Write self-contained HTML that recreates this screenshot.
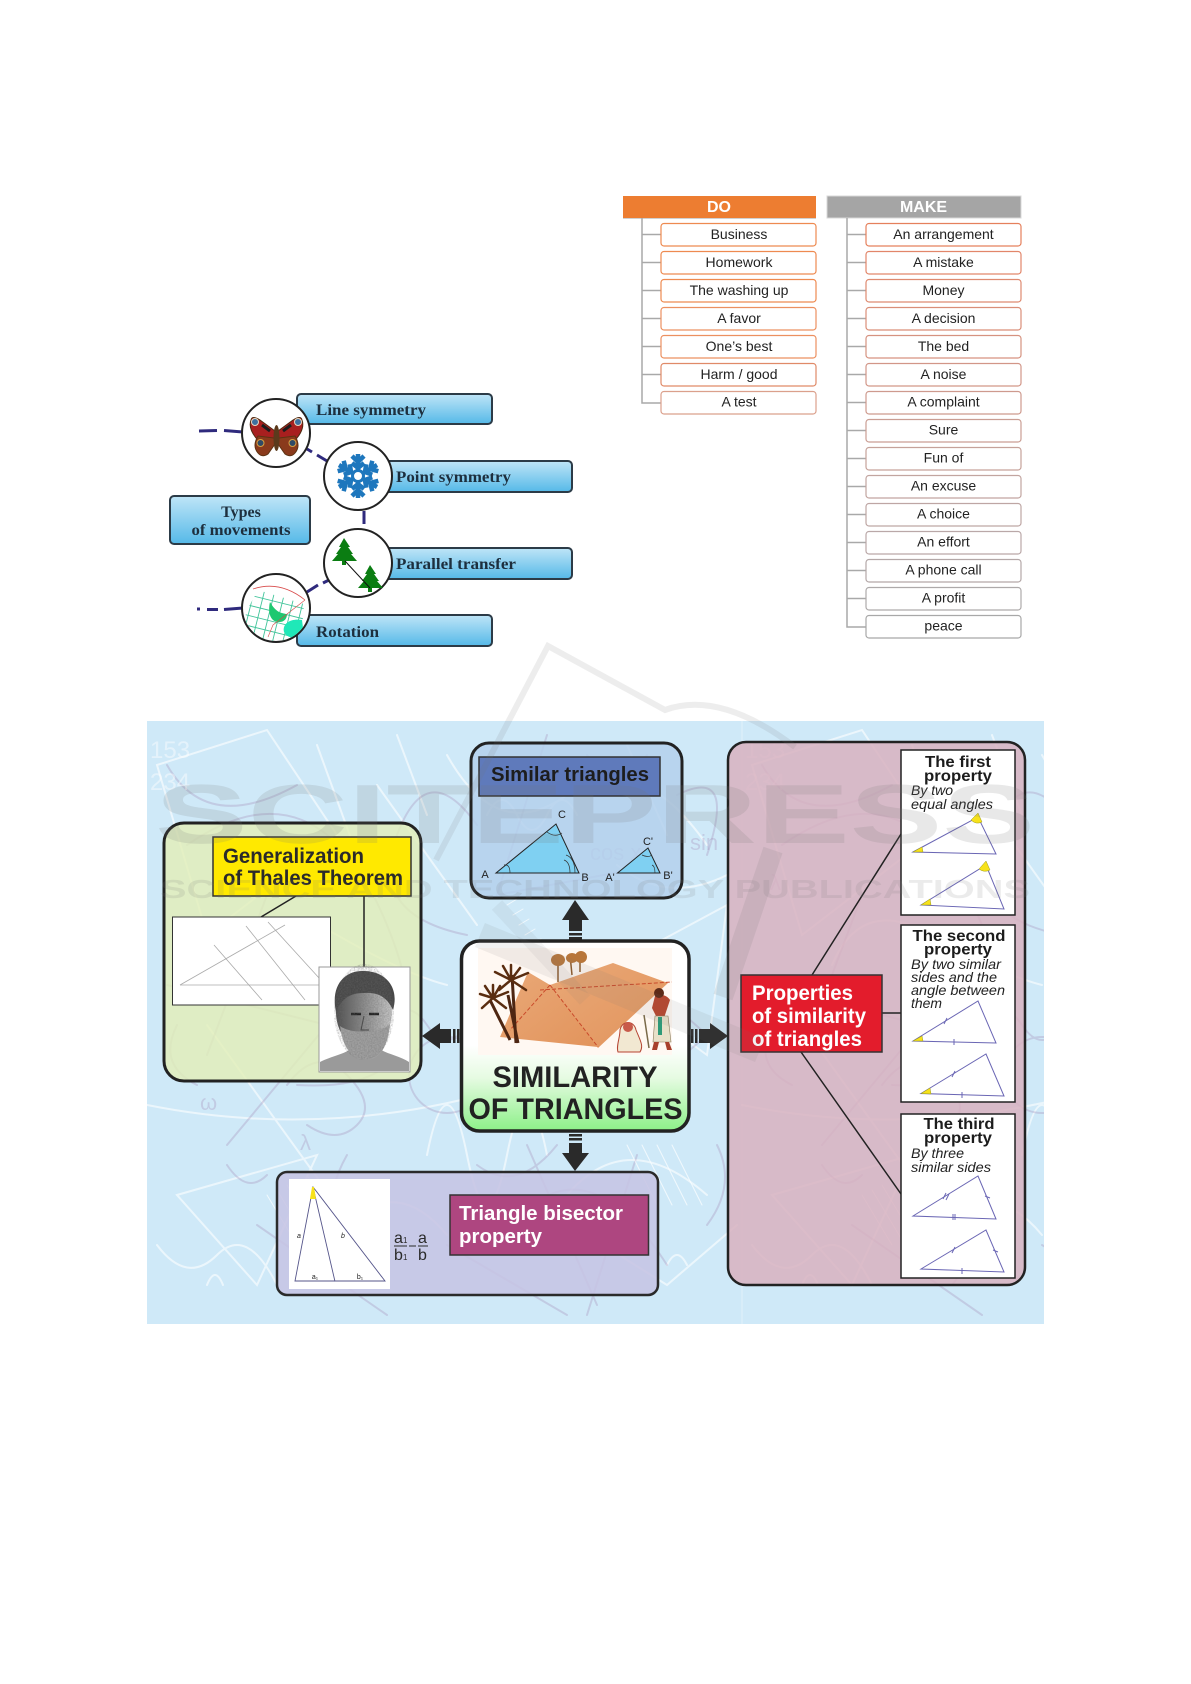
<!DOCTYPE html>
<html lang="en"><head><meta charset="utf-8"><title>Diagrams</title>
<style>
html,body{margin:0;padding:0;background:#fff}
svg{display:block}
text{font-family:"Liberation Sans",sans-serif}
.it{font-size:14px;fill:#222;text-anchor:middle}
.ser{font-family:"Liberation Serif",serif;font-weight:bold;font-size:16px;fill:#1d2f3e}
.pt{font-size:16px;font-weight:bold;fill:#1c1c1c;text-anchor:middle}
.pi{font-size:14px;font-style:italic;fill:#222}
.lb{font-size:11px;fill:#222;text-anchor:middle}
</style></head>
<body>
<svg xmlns="http://www.w3.org/2000/svg" width="1191" height="1684" viewBox="0 0 1191 1684">
<defs>
<linearGradient id="bl" x1="0" y1="0" x2="0" y2="1"><stop offset="0" stop-color="#bfe5f7"/><stop offset="1" stop-color="#55b9e8"/></linearGradient>
<linearGradient id="gr" x1="0" y1="0" x2="0" y2="1"><stop offset="0" stop-color="#fff"/><stop offset=".55" stop-color="#fff"/><stop offset=".72" stop-color="#e6fbe2"/><stop offset="1" stop-color="#8cf088"/></linearGradient>
<linearGradient id="py" x1="0" y1="0" x2="1" y2="1"><stop offset="0" stop-color="#e9a877"/><stop offset="1" stop-color="#e2945c"/></linearGradient>
<linearGradient id="hd" x1="0" y1="0" x2="1" y2="0"><stop offset="0" stop-color="#4e4e4e"/><stop offset=".5" stop-color="#8c8c8c"/><stop offset="1" stop-color="#c8c8c8"/></linearGradient>
<clipPath id="bgc"><rect x="147" y="721" width="897" height="603"/></clipPath>
<clipPath id="c1"><circle cx="276" cy="608" r="33"/></clipPath>
<clipPath id="c2"><path d="M258,590L304,604L301,642L243,642L246,612Z"/></clipPath>
<filter id="grain" x="0" y="0" width="100%" height="100%"><feTurbulence type="fractalNoise" baseFrequency=".7" numOctaves="2" seed="4"/><feColorMatrix values="0 0 0 0 .15 0 0 0 0 .15 0 0 0 0 .15 1.4 0 0 0 -.45"/><feComposite in2="SourceGraphic" operator="in"/></filter>
<g id="tile" fill="none" stroke-linecap="round">
  <g stroke="#fff" stroke-width="2" opacity=".6">
    <path d="M10,40 L120,5 L190,110 L60,210 Z"/>
    <path d="M300,30 Q350,120 420,70 T560,120"/>
    <path d="M30,470 L170,430 L110,560 Z"/>
    <path d="M280,430 Q300,330 320,430 T360,430 T400,430"/>
    <path d="M0,380 Q200,420 400,350"/>
    <path d="M420,470 Q480,400 560,470"/>
    <path d="M60,300 L190,480"/>
    <path d="M450,250 L580,180 L560,330 Z"/>
    <path d="M230,60 L330,200"/>
    <path d="M440,510 L520,560 L590,500"/>
    <path d="M90,240 Q120,170 190,210 T300,260"/>
    <path d="M340,260 L420,300 L390,360"/>
    <path d="M10,520 Q40,560 70,530 T130,560"/>
    <path d="M170,20 L210,130 M250,10 L280,90 M480,20 L520,110"/>
    <path d="M200,500 Q250,450 300,510"/>
    <path d="M470,140 Q520,180 580,150"/>
    <path d="M340,90 q15,-30 30,0 t30,0 t30,0"/>
    <path d="M60,560 q8,-20 16,0 M520,540 q10,-20 20,0"/>
  </g>
  <g stroke="#a58fb8" stroke-width="2" opacity=".32">
    <path d="M40,120 Q170,30 240,200 T150,360"/>
    <path d="M110,500 L240,590"/>
    <path d="M330,100 Q280,30 250,110 T320,210"/>
    <path d="M200,430 Q160,500 230,540"/>
    <path d="M350,520 Q430,400 520,540"/>
    <path d="M20,260 L180,300 L80,420"/>
    <path d="M470,230 L560,310 L480,380 Z"/>
    <path d="M300,520 L420,590"/>
    <circle cx="300" cy="350" r="38"/>
    <path d="M530,70 Q590,40 560,130"/>
    <path d="M20,40 Q60,110 150,60"/>
    <path d="M400,10 L350,170 L510,140"/>
    <path d="M120,170 L60,330"/>
    <path d="M240,300 q20,-30 40,0 t40,0"/>
    <path d="M380,420 L450,580 M490,430 L440,590"/>
    <path d="M30,300 q-20,40 20,60 M570,420 q20,40 -10,80"/>
    <path d="M210,560 q25,-30 10,-60 M330,440 q40,30 80,-20"/>
    <path d="M140,360 q30,-40 60,-10 t10,50 t-50,0"/>
    <path d="M440,30 q30,40 60,0 M80,440 q20,30 40,10"/>
  </g>
  <g stroke="#fff" stroke-width="1" opacity=".7">
    <path d="M120,470 L150,520 M130,465 L160,515 M140,460 L170,510 M150,455 L180,505 M160,450 L190,500"/>
    <path d="M480,420 L510,480 M495,420 L525,480 M510,420 L540,480 M525,420 L555,480"/>
    <path d="M360,180 l10,-6 M366,190 l10,-6 M372,200 l10,-6 M378,210 l10,-6 M384,220 l10,-6 M390,230 l10,-6"/>
  </g>
</g>
</defs>

<!-- DO / MAKE table -->
<rect x="623" y="196" width="193" height="22" fill="#ed7d31"/>
<path d="M623,218.500H816" stroke="#d0d0d0"/>
<text x="719" y="212" font-size="16" font-weight="bold" fill="#fff" text-anchor="middle">DO</text>
<rect x="827" y="196" width="194" height="22" fill="#a5a5a5" stroke="#d8d8d8"/>
<text x="923.500" y="212" font-size="16" font-weight="bold" fill="#fff" text-anchor="middle">MAKE</text>
<g fill="none" stroke="#a9a9a9" stroke-width="1.500">
<path d="M642,218V403H661M642,234.500H661M642,262.500H661M642,290.500H661M642,318.500H661M642,346.500H661M642,374.500H661"/>
<path d="M847,218V627H866M847,234.500H866M847,262.500H866M847,290.500H866M847,318.500H866M847,346.500H866M847,374.500H866M847,402.500H866M847,430.500H866M847,458.500H866M847,486.500H866M847,514.500H866M847,542.500H866M847,570.500H866M847,598.500H866"/>
</g>
<g fill="#fff" stroke-width="1.200">
<rect x="661" y="223.500" width="155" height="22.500" rx="3" stroke="#ee8a50"/>
<rect x="661" y="251.500" width="155" height="22.500" rx="3" stroke="#ee8a50"/>
<rect x="661" y="279.500" width="155" height="22.500" rx="3" stroke="#ee8a50"/>
<rect x="661" y="307.500" width="155" height="22.500" rx="3" stroke="#ec9060"/>
<rect x="661" y="335.500" width="155" height="22.500" rx="3" stroke="#ec9060"/>
<rect x="661" y="363.500" width="155" height="22.500" rx="3" stroke="#e08a68"/>
<rect x="661" y="391.500" width="155" height="22.500" rx="3" stroke="#dba08c"/>
<rect x="866" y="223.500" width="155" height="22.500" rx="3" stroke="#e5805c"/>
<rect x="866" y="251.500" width="155" height="22.500" rx="3" stroke="#e2866a"/>
<rect x="866" y="279.500" width="155" height="22.500" rx="3" stroke="#de8a70"/>
<rect x="866" y="307.500" width="155" height="22.500" rx="3" stroke="#da8e78"/>
<rect x="866" y="335.500" width="155" height="22.500" rx="3" stroke="#d69280"/>
<rect x="866" y="363.500" width="155" height="22.500" rx="3" stroke="#d29688"/>
<rect x="866" y="391.500" width="155" height="22.500" rx="3" stroke="#ce9a8e"/>
<rect x="866" y="419.500" width="155" height="22.500" rx="3" stroke="#ca9e94"/>
<rect x="866" y="447.500" width="155" height="22.500" rx="3" stroke="#c6a29a"/>
<rect x="866" y="475.500" width="155" height="22.500" rx="3" stroke="#c2a5a0"/>
<rect x="866" y="503.500" width="155" height="22.500" rx="3" stroke="#bea6a4"/>
<rect x="866" y="531.500" width="155" height="22.500" rx="3" stroke="#baa8a8"/>
<rect x="866" y="559.500" width="155" height="22.500" rx="3" stroke="#b4a8a8"/>
<rect x="866" y="587.500" width="155" height="22.500" rx="3" stroke="#aeaaaa"/>
<rect x="866" y="615.500" width="155" height="22.500" rx="3" stroke="#a8a8a8"/>
</g>
<text class="it" x="739" y="239">Business</text>
<text class="it" x="739" y="267">Homework</text>
<text class="it" x="739" y="295">The washing up</text>
<text class="it" x="739" y="323">A favor</text>
<text class="it" x="739" y="351">One’s best</text>
<text class="it" x="739" y="379">Harm / good</text>
<text class="it" x="739" y="406.500">A test</text>
<text class="it" x="943.500" y="239">An arrangement</text>
<text class="it" x="943.500" y="267">A mistake</text>
<text class="it" x="943.500" y="295">Money</text>
<text class="it" x="943.500" y="323">A decision</text>
<text class="it" x="943.500" y="351">The bed</text>
<text class="it" x="943.500" y="379">A noise</text>
<text class="it" x="943.500" y="406.500">A complaint</text>
<text class="it" x="943.500" y="434.500">Sure</text>
<text class="it" x="943.500" y="462.500">Fun of</text>
<text class="it" x="943.500" y="490.500">An excuse</text>
<text class="it" x="943.500" y="518.500">A choice</text>
<text class="it" x="943.500" y="546.500">An effort</text>
<text class="it" x="943.500" y="574.500">A phone call</text>
<text class="it" x="943.500" y="602.500">A profit</text>
<text class="it" x="943.500" y="630.500">peace</text>

<!-- Types of movements -->
<g stroke="#2c3b47" stroke-width="2" fill="url(#bl)">
<rect x="297" y="394" width="195" height="30" rx="4"/>
<rect x="340" y="461" width="232" height="31" rx="4"/>
<rect x="170" y="496" width="140" height="48" rx="4"/>
<rect x="340" y="548" width="232" height="31" rx="4"/>
<rect x="297" y="615" width="195" height="31" rx="4"/>
</g>
<g stroke="#2f2a7d" stroke-width="3" fill="none">
<path d="M199,431L217,430.500M224,430.500L243,432"/>
<path d="M307,449L312,452M317,455L327,461"/>
<path d="M364,511V524"/>
<path d="M307,592L318,585M323,583L329,580"/>
<path d="M197,609H200M207,609.500L218,609.500M224,609.500L243,608"/>
</g>
<g fill="#fff" stroke="#222" stroke-width="2">
<circle cx="276" cy="433" r="34"/><circle cx="358" cy="476" r="34"/><circle cx="358" cy="563" r="34"/><circle cx="276" cy="608" r="34"/>
</g>
<text class="ser" x="316" y="415" textLength="110" lengthAdjust="spacingAndGlyphs">Line symmetry</text>
<text class="ser" x="396" y="482" textLength="115" lengthAdjust="spacingAndGlyphs">Point symmetry</text>
<text class="ser" x="396" y="569" textLength="120" lengthAdjust="spacingAndGlyphs">Parallel transfer</text>
<text class="ser" x="316" y="637" textLength="63" lengthAdjust="spacingAndGlyphs">Rotation</text>
<text class="ser" x="241" y="517" text-anchor="middle">Types</text>
<text class="ser" x="241" y="535" text-anchor="middle" textLength="99" lengthAdjust="spacingAndGlyphs">of movements</text>
<!-- butterfly -->
<path d="M275,431L260,420Q252,415 251,420Q248,428 256,438L276,441Z" fill="#a81f1f" stroke="#4e2a10"/>
<path d="M278,431L293,420Q301,415 302,420Q305,428 297,438L277,441Z" fill="#a81f1f" stroke="#4e2a10"/>
<path d="M274,438L258,436Q252,446 258,453Q262,458 268,454L275,444Z" fill="#8a3a1c" stroke="#5b3212"/>
<path d="M279,438L295,436Q301,446 295,453Q291,458 285,454L278,444Z" fill="#8a3a1c" stroke="#5b3212"/>
<ellipse cx="276.500" cy="438" rx="3" ry="13" fill="#5b3a1c"/>
<circle cx="255" cy="422" r="3.500" fill="#3e6f9e" stroke="#e8d8c0"/><circle cx="298" cy="422" r="3.500" fill="#3e6f9e" stroke="#e8d8c0"/>
<circle cx="260.500" cy="443" r="3.500" fill="#2f4a66" stroke="#d8a040"/><circle cx="292.500" cy="443" r="3.500" fill="#2f4a66" stroke="#d8a040"/>
<path d="M262,425L270,431M291,425L283,431" stroke="#1c1c1c" stroke-width="3"/>
<!-- snowflake -->
<g transform="translate(358,476)" stroke="#1e77bd" stroke-width="4.500" fill="none">
<g><path d="M0,-6V-22M-6,-20L0,-14L6,-20M-6,-13L0,-8L6,-13"/></g>
<g transform="rotate(60)"><path d="M0,-6V-22M-6,-20L0,-14L6,-20M-6,-13L0,-8L6,-13"/></g>
<g transform="rotate(120)"><path d="M0,-6V-22M-6,-20L0,-14L6,-20M-6,-13L0,-8L6,-13"/></g>
<g transform="rotate(180)"><path d="M0,-6V-22M-6,-20L0,-14L6,-20M-6,-13L0,-8L6,-13"/></g>
<g transform="rotate(240)"><path d="M0,-6V-22M-6,-20L0,-14L6,-20M-6,-13L0,-8L6,-13"/></g>
<g transform="rotate(300)"><path d="M0,-6V-22M-6,-20L0,-14L6,-20M-6,-13L0,-8L6,-13"/></g>
<circle r="5.500" stroke-width="3"/>
</g>
<!-- trees -->
<path d="M344,538L350,547H348L353,554H351L357,561H346V565H342V561H332L338,554H336L341,547H339Z" fill="#0b7d12"/>
<path d="M370,565L376,574H374L379,581H377L383,588H372V592H368V588H358L364,581H362L367,574H365Z" fill="#0b7d12"/>
<path d="M345,561L370,588" stroke="#111" stroke-width="1"/>
<!-- rotation circle -->
<g clip-path="url(#c1)">
<g clip-path="url(#c2)">
<g stroke="#41c49a" stroke-width=".9" fill="none" transform="rotate(14 268 610)">
<path d="M240,580V650M250,580V650M260,580V650M270,580V650M280,580V650M290,580V650M300,580V650M235,590H310M235,600H310M235,610H310M235,620H310M235,630H310M235,640H310"/>
</g>
</g>
<path d="M270,602C268,610 269,622 279,622C285,622 287,618 287,614C279,614 274,609 270,602Z" fill="#1ec870"/>
<path d="M302,620C290,618 282,624 284,632C288,640 298,638 304,636Z" fill="#1fe8b8"/>
<path d="M253,589Q280,580 305,600" fill="none" stroke="#d84a4a" stroke-width=".8"/>
<path d="M305,600L273,625L268,637" fill="none" stroke="#d84a4a" stroke-width=".6"/>
</g>

<!-- Main figure background -->
<rect x="147" y="721" width="897" height="603" fill="#cfe9f8"/>
<g clip-path="url(#bgc)">
<use href="#tile" x="147" y="725"/>
<use href="#tile" x="742" y="725"/>
<path d="M742,721V1324" stroke="#fff" opacity=".4"/>
<g font-size="24" fill="#fff" opacity=".45">
<text x="150" y="758">153</text><text x="150" y="790">234</text>
<text x="745" y="758">153</text><text x="745" y="790">234</text>
</g>
<g font-size="22" fill="#a58fb8" opacity=".32">
<text x="590" y="860">cos x</text><text x="690" y="850">sin</text>
<text x="200" y="1110">ω</text><text x="300" y="1150">λ</text><text x="770" y="890">λ</text>
</g>
</g>

<!-- Thales panel -->
<rect x="164" y="823" width="257" height="258" rx="20" fill="#e2eeb8" fill-opacity=".82" stroke="#222" stroke-width="3"/>
<path d="M296,896L261,917M364,896V967" stroke="#222" stroke-width="1.500" fill="none"/>
<rect x="213" y="837" width="198" height="59" fill="#ffe900" stroke="#333" stroke-width="1.500"/>
<text x="223" y="863" font-size="21" font-weight="bold" fill="#2a2a2a" textLength="141" lengthAdjust="spacingAndGlyphs">Generalization</text>
<text x="223" y="885" font-size="21" font-weight="bold" fill="#2a2a2a" textLength="180" lengthAdjust="spacingAndGlyphs">of Thales Theorem</text>
<rect x="172.500" y="917" width="158" height="88" fill="#fff" stroke="#333"/>
<g stroke="#aaa" stroke-width=".8" fill="none">
<path d="M180,985H330"/><path d="M180,985L285,925"/>
<path d="M214,945L262,1000M246,926L305,1000M268,922L330,990"/>
</g>
<rect x="319" y="967" width="91" height="105" fill="#fff" stroke="#999"/>
<path d="M320,1071V1062C332,1056 345,1054 352,1048H378C386,1054 400,1056 409,1062V1071Z" fill="#9a9a9a"/>
<ellipse cx="364" cy="1012" rx="28" ry="36" fill="url(#hd)"/>
<path d="M336,1012C330,984 346,970 364,971C384,971 400,986 393,1010C387,997 378,992 364,993C350,993 342,998 336,1012Z" fill="#484848"/>
<path d="M340,1026C343,1050 354,1060 366,1060C380,1060 388,1046 390,1024C380,1034 350,1034 340,1026Z" fill="#a0a0a0"/>
<path d="M351,1014H361M369,1014H379" stroke="#222" stroke-width="2.500"/>
<path d="M364,1016L361,1030H369" fill="none" stroke="#444" stroke-width="1"/>
<ellipse cx="364" cy="1012" rx="30" ry="48" fill="#fff" filter="url(#grain)" opacity=".6"/>

<!-- Similar triangles panel -->
<rect x="471" y="743" width="211" height="155" rx="18" fill="#b4d0ec" fill-opacity=".85" stroke="#222" stroke-width="3"/>
<rect x="479" y="757" width="181" height="39" fill="#5f7abb" stroke="#333" stroke-width="1.500"/>
<text x="570" y="781" font-size="20" font-weight="bold" fill="#1d1d1d" text-anchor="middle" textLength="158" lengthAdjust="spacingAndGlyphs">Similar triangles</text>
<path d="M496,873H579L556,824Z" fill="#7fd0f2" stroke="#222" stroke-width="1"/>
<path d="M617.500,873H660L648,848Z" fill="#7fd0f2" stroke="#222" stroke-width="1"/>
<path d="M547,832Q555,838 562,833M570,873Q570,862 564,860M575,873Q575,858 566,855M510,873Q510,864 504,865M642,855Q648,858 652,855M655,873Q655,866 652,865" fill="none" stroke="#333" stroke-width=".7"/>
<text class="lb" x="485" y="878">A</text><text class="lb" x="585" y="881">B</text><text class="lb" x="562" y="818">C</text>
<text class="lb" x="610" y="881">A'</text><text class="lb" x="668" y="879">B'</text><text class="lb" x="648" y="845">C'</text>

<!-- Arrows -->
<g fill="#2a2a2a">
<path d="M575,900L589,920H582V931H569V920H562Z"/><rect x="569" y="933" width="13" height="2.500"/><rect x="569" y="937" width="13" height="2.500"/>
<path d="M422,1036L440,1023V1029H451V1043H440V1049Z"/><rect x="453" y="1029" width="2.500" height="14"/><rect x="457" y="1029" width="2.500" height="14"/>
<path d="M728,1036L710,1023V1029H699V1043H710V1049Z"/><rect x="695" y="1029" width="2.500" height="14"/><rect x="691" y="1029" width="2.500" height="14"/>
<path d="M575,1171L562,1153H569V1143H582V1153H589Z"/><rect x="569" y="1134" width="13" height="2.500"/><rect x="569" y="1138" width="13" height="2.500"/>
</g>

<!-- Center panel -->
<rect x="461.500" y="941" width="227.500" height="190" rx="18" fill="url(#gr)" stroke="#222" stroke-width="3.500"/>
<rect x="478" y="948" width="194" height="107" fill="#fff8f2"/>
<path d="M500,1037L528,972L550,985L598,1047Z" fill="url(#py)"/>
<path d="M550,985L613,963L668,983L598,1048Z" fill="url(#py)"/>
<path d="M540,990L672,982M550,985L598,1047M550,985L510,1030" stroke="#c94a2a" stroke-width="1" stroke-dasharray="4 2" fill="none"/>
<g stroke="#4e2612" fill="none">
<path d="M510,1040L490,1000M518,1043L508,995M516,1043L512,975" stroke-width="3"/>
</g>
<g stroke="#5a2d10" stroke-width="2.500" fill="none" stroke-linecap="round">
<path d="M511,980L495,972M511,980L528,973M511,980L499,990M511,980L526,990M511,980L511,965M511,980L520,968M511,980L503,966"/>
<path d="M493,998L480,994M493,998L508,992M493,998L482,1008M493,998L506,1008M493,998L493,985M493,998L500,986M493,998L485,986"/>
</g>
<g stroke="#8e5a2a" stroke-width="1.500"><path d="M558,982V960M572,975L570,955M580,972V955"/></g>
<g fill="#b8763a"><ellipse cx="558" cy="960" rx="7" ry="6"/><ellipse cx="572" cy="958" rx="6" ry="5"/><ellipse cx="581" cy="957" rx="6" ry="6"/></g>
<path d="M655,996C658,994 666,994 670,1000L664,1018H657L652,1008Z" fill="#b8442c"/>
<circle cx="659" cy="993" r="5" fill="#5c2a18"/>
<path d="M655,1016H668L671,1042H653Z" fill="#e8e0c8" stroke="#8a7a5a" stroke-width=".6"/>
<rect x="658" y="1017" width="4" height="18" fill="#2f9a78"/>
<path d="M654,1042L652,1050H657L659,1042M665,1042L667,1050H672L669,1042" fill="#a8402c"/>
<path d="M644,1015L649,1048" stroke="#7a6a4a" stroke-width="1.500"/>
<path d="M620,1030C622,1020 634,1020 636,1030C640,1040 644,1046 640,1052H618C616,1046 620,1038 620,1030Z" fill="#f2e8d2" stroke="#b54432" stroke-width="1"/>
<circle cx="628" cy="1027" r="5" fill="#c85a4a"/>
<text x="575" y="1087" font-size="30" font-weight="bold" fill="#222" text-anchor="middle" textLength="165" lengthAdjust="spacingAndGlyphs">SIMILARITY</text>
<text x="575.500" y="1119" font-size="30" font-weight="bold" fill="#222" text-anchor="middle" textLength="214" lengthAdjust="spacingAndGlyphs">OF TRIANGLES</text>

<!-- Bisector panel -->
<rect x="277" y="1172" width="381" height="123" rx="10" fill="#c6c4e4" fill-opacity=".88" stroke="#2a2a2a" stroke-width="2.500"/>
<rect x="289" y="1179" width="101" height="110" fill="#fff"/>
<path d="M313,1187L295,1281H385ZM313,1187L335,1281.500" fill="none" stroke="#55558a" stroke-width=".9"/>
<path d="M312,1187L310,1199H316L314,1187Z" fill="#f7e21a"/>
<text class="lb" x="299" y="1238" style="font-size:7px;font-style:italic">a</text>
<text class="lb" x="343" y="1238" style="font-size:7px;font-style:italic">b</text>
<text class="lb" x="315" y="1279" style="font-size:7px">a₁</text>
<text class="lb" x="360" y="1279" style="font-size:7px">b₁</text>
<text x="394" y="1243" font-size="16" fill="#2a2a2a">a</text><text x="403" y="1243" font-size="8" fill="#2a2a2a">1</text>
<text x="394" y="1260" font-size="16" fill="#2a2a2a">b</text><text x="403" y="1260" font-size="8" fill="#2a2a2a">1</text>
<text x="418" y="1243" font-size="16" fill="#2a2a2a">a</text><text x="418" y="1260" font-size="16" fill="#2a2a2a">b</text>
<path d="M394,1246H407M409,1246H416M418,1246H428" stroke="#2a2a2a" stroke-width="1" fill="none"/>
<rect x="450" y="1195" width="198.500" height="60" fill="#ae4680" stroke="#333" stroke-width="1.500"/>
<text x="459" y="1220" font-size="20" font-weight="bold" fill="#fff" textLength="164" lengthAdjust="spacingAndGlyphs">Triangle bisector</text>
<text x="459" y="1243" font-size="20" font-weight="bold" fill="#fff" textLength="83" lengthAdjust="spacingAndGlyphs">property</text>

<!-- Properties panel -->
<rect x="728" y="742" width="297" height="543" rx="18" fill="#d8b2c0" fill-opacity=".85" stroke="#222" stroke-width="2.500"/>
<path d="M812,975L901,834M882,1013H901M801,1052L901,1194" stroke="#222" stroke-width="1.500" fill="none"/>
<rect x="741" y="975" width="141" height="77" fill="#e31c2c" stroke="#333" stroke-width="1.500"/>
<text x="752" y="1000" font-size="21" font-weight="bold" fill="#fff" textLength="101" lengthAdjust="spacingAndGlyphs">Properties</text>
<text x="752" y="1023" font-size="21" font-weight="bold" fill="#fff" textLength="114" lengthAdjust="spacingAndGlyphs">of similarity</text>
<text x="752" y="1046" font-size="21" font-weight="bold" fill="#fff" textLength="110" lengthAdjust="spacingAndGlyphs">of triangles</text>
<g fill="#fff" stroke="#222" stroke-width="1.500">
<rect x="901" y="750" width="114" height="165"/>
<rect x="901" y="925" width="114" height="177"/>
<rect x="901" y="1114" width="114" height="164"/>
</g>
<text class="pt" x="958" y="767" textLength="66" lengthAdjust="spacingAndGlyphs">The first</text>
<text class="pt" x="958" y="781" textLength="68" lengthAdjust="spacingAndGlyphs">property</text>
<text class="pi" x="911" y="795" textLength="42" lengthAdjust="spacingAndGlyphs">By two</text>
<text class="pi" x="911" y="809" textLength="82" lengthAdjust="spacingAndGlyphs">equal angles</text>
<text class="pt" x="959" y="941" textLength="93" lengthAdjust="spacingAndGlyphs">The second</text>
<text class="pt" x="958" y="954.500" textLength="68" lengthAdjust="spacingAndGlyphs">property</text>
<text class="pi" x="911" y="969" textLength="90" lengthAdjust="spacingAndGlyphs">By two similar</text>
<text class="pi" x="911" y="982" textLength="86" lengthAdjust="spacingAndGlyphs">sides and the</text>
<text class="pi" x="911" y="995" textLength="94" lengthAdjust="spacingAndGlyphs">angle between</text>
<text class="pi" x="911" y="1008" textLength="31" lengthAdjust="spacingAndGlyphs">them</text>
<text class="pt" x="959" y="1129" textLength="71" lengthAdjust="spacingAndGlyphs">The third</text>
<text class="pt" x="958" y="1143" textLength="68" lengthAdjust="spacingAndGlyphs">property</text>
<text class="pi" x="911" y="1158" textLength="53" lengthAdjust="spacingAndGlyphs">By three</text>
<text class="pi" x="911" y="1172" textLength="80" lengthAdjust="spacingAndGlyphs">similar sides</text>
<g fill="none" stroke="#6a66b4" stroke-width="1">
<path d="M913,852L978,817L996,854Z"/>
<path d="M921,905L986,865L1004,909Z"/>
<path d="M913,1041L978,1001L996,1043Z"/>
<path d="M921,1093.500L986,1054L1004,1096Z"/>
<path d="M913,1216L978,1176L996,1219Z"/>
<path d="M921,1269L986,1230L1004,1272Z"/>
<path d="M944,1024L947,1018M954,1039V1045M952,1077L955,1071M962,1092V1098"/>
<path d="M943,1199L946,1193M946,1200L949,1194M953,1214V1220M955,1214V1220M985,1196L990,1198"/>
<path d="M952,1253L955,1247M962,1268V1274M993,1250L998,1252"/>
</g>
<g fill="#f7e21a" stroke="#9a9a20" stroke-width=".5">
<path d="M913,852L922,847L923,852Z"/><path d="M921,905L930,899L931,905Z"/>
<path d="M971,820L978,813L982,822Q976,825 971,820Z"/><path d="M979,869L986,861L990,870Q984,873 979,869Z"/>
<path d="M913,1041L922,1036L923,1041Z"/><path d="M921,1093.500L930,1088L931,1094Z"/>
</g>

<!-- Watermark -->
<g fill="none" stroke="#777">
<path d="M436,860L548,646L665,710Q720,690 795,747" stroke-width="6" opacity=".13"/>
<path d="M480,935L760,1050" stroke-width="26" opacity=".1"/>
<path d="M773,850L723,997" stroke-width="20" opacity=".14"/>
<path d="M497,905L585,1000" stroke-width="14" opacity=".08"/>
</g>
<text x="155" y="843" font-size="84" font-weight="bold" fill="#777" opacity=".16" textLength="880" lengthAdjust="spacingAndGlyphs">SCITEPRESS</text>
<text x="160" y="898" font-size="26" font-weight="bold" fill="#777" opacity=".14" textLength="870" lengthAdjust="spacingAndGlyphs">SCIENCE AND TECHNOLOGY PUBLICATIONS</text>
</svg>
</body></html>
